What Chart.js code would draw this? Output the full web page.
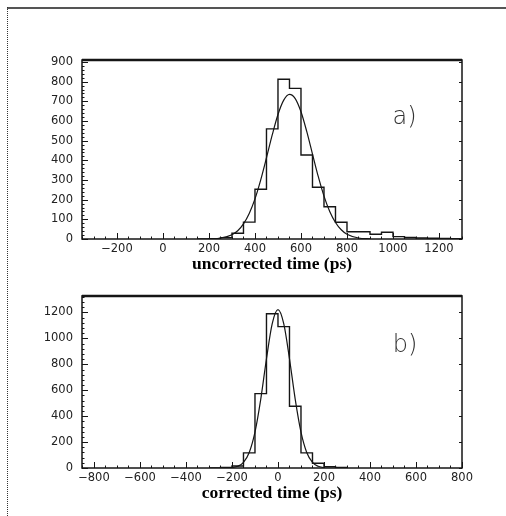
<!DOCTYPE html>
<html>
<head>
<meta charset="utf-8">
<script src="https://cdn.jsdelivr.net/npm/chart.js@4.4.1/dist/chart.umd.min.js"></script>
<style>
  html, body { margin: 0; padding: 0; background: #fff; }
  #page { position: relative; width: 506px; height: 516px; overflow: hidden; background: #fff; }
  .edge-top { position: absolute; left: 7px; top: 7px; right: 0; border-top: 2px solid #555; }
  .edge-left { position: absolute; left: 7px; top: 7px; bottom: 0; border-left: 1px dotted #333; }
  canvas { position: absolute; left: 0; }
  #chartA { top: 0; }
  #chartB { top: 280px; }
</style>
</head>
<body>
<div id="page">
  <div class="edge-top"></div>
  <div class="edge-left"></div>
  <canvas id="chartA" width="506" height="280"></canvas>
  <canvas id="chartB" width="506" height="236"></canvas>
</div>
<script>
// Two timing histograms (50 ps bins) with their gaussian fits.
const binWidth = 50;

// a) uncorrected time
const binLeftA = [200, 250, 300, 350, 400, 450, 500, 550, 600, 650, 700, 750, 800, 850, 900, 950, 1000, 1050, 1100, 1150, 1200, 1250];
const countsA  = [2, 7, 29, 86, 253, 560, 812, 766, 427, 263, 164, 85, 37, 37, 24, 34, 12, 8, 5, 4, 3, 2];
const fitXA = [200, 250, 300, 325, 350, 375, 400, 425, 450, 475, 500, 525, 550, 575, 600, 625, 650, 675, 700, 725, 750, 775, 800, 850, 900];
const fitYA = [1, 5, 22, 42, 77, 130, 204, 301, 413, 529, 633, 706, 735, 714, 647, 547, 432, 318, 218, 140, 84, 47, 24, 5, 1];
const xTicksA = [-200, 0, 200, 400, 600, 800, 1000, 1200];
const yTicksA = [0, 100, 200, 300, 400, 500, 600, 700, 800, 900];

// b) corrected time
const binLeftB = [-250, -200, -150, -100, -50, 0, 50, 100, 150, 200, 250];
const countsB  = [4, 15, 117, 574, 1190, 1091, 477, 117, 37, 10, 4];
const fitXB = [-200, -175, -150, -125, -100, -75, -50, -25, 0, 25, 50, 75, 100, 125, 150, 175, 200];
const fitYB = [3, 13, 43, 120, 277, 530, 843, 1114, 1222, 1114, 843, 530, 277, 120, 43, 13, 3];
const xTicksB = [-800, -600, -400, -200, 0, 200, 400, 600, 800];
const yTicksB = [0, 200, 400, 600, 800, 1000, 1200];

const ink = "#151515";

function histPoints(lefts, counts) {
  const pts = [{ x: lefts[0] - binWidth, y: 0 }];
  lefts.forEach((x, i) => pts.push({ x, y: counts[i] }));
  pts.push({ x: lefts[lefts.length - 1] + binWidth, y: 0 });
  return pts;
}

const fmt = v => (v < 0 ? "\u2212" + Math.abs(v) : String(v));

// frame, inward tick marks and the a)/b) tag, old PAW style
const paperAxes = {
  id: "paperAxes",
  afterDraw(chart, args, opts) {
    const { ctx, chartArea: a, scales: { x, y } } = chart;
    ctx.save();
    ctx.strokeStyle = ink;
    ctx.lineWidth = 1;
    ctx.beginPath();
    for (let v = Math.ceil(x.min / opts.xMinor) * opts.xMinor; v <= x.max; v += opts.xMinor) {
      const px = Math.round(x.getPixelForValue(v)) + 0.5;
      const major = x.ticks.some(t => t.value === v);
      ctx.moveTo(px, a.bottom);
      ctx.lineTo(px, a.bottom - (major ? 6 : 2.5));
    }
    for (let v = 0; v <= y.max; v += opts.yMinor) {
      const py = Math.round(y.getPixelForValue(v)) + 0.5;
      const major = y.ticks.some(t => t.value === v);
      ctx.moveTo(a.left, py);
      ctx.lineTo(a.left + (major ? 6 : 2.5), py);
      if (major) { ctx.moveTo(a.right, py); ctx.lineTo(a.right - 3, py); }
    }
    ctx.stroke();

    ctx.lineWidth = 1.5;
    ctx.strokeRect(a.left, a.top, a.right - a.left, a.bottom - a.top);
    ctx.lineWidth = 2.5;
    ctx.beginPath();
    ctx.moveTo(a.left, a.top);
    ctx.lineTo(a.right, a.top);
    ctx.stroke();

    ctx.fillStyle = "#333";
    ctx.font = '300 24px "DejaVu Sans"';
    ctx.textAlign = "center";
    ctx.textBaseline = "middle";
    ctx.fillText(opts.tag, x.getPixelForValue(opts.tagAt[0]), y.getPixelForValue(opts.tagAt[1]));
    ctx.restore();
  }
};

function makePanel(id, p) {
  return new Chart(document.getElementById(id), {
    type: "line",
    data: {
      datasets: [
        { data: histPoints(p.lefts, p.counts), stepped: "before", borderColor: ink, borderWidth: 1.4, pointRadius: 0, fill: false },
        { data: p.fitX.map((x, i) => ({ x, y: p.fitY[i] })), borderColor: ink, borderWidth: 1.2, pointRadius: 0, fill: false, cubicInterpolationMode: "monotone" }
      ]
    },
    options: {
      responsive: false,
      animation: false,
      devicePixelRatio: 1,
      layout: { padding: { top: p.top, right: 44, bottom: 0, left: 0 } },
      plugins: {
        legend: { display: false },
        tooltip: { enabled: false },
        paperAxes: { xMinor: 50, yMinor: p.yMinor, tag: p.tag, tagAt: p.tagAt }
      },
      scales: {
        x: {
          type: "linear", min: p.xMin, max: p.xMax,
          grid: { display: false, drawTicks: false }, border: { display: false },
          afterBuildTicks: s => { s.ticks = p.xTicks.map(v => ({ value: v })); },
          afterFit: s => { s.height = p.xHeight; },
          ticks: { padding: p.xPad, color: "#222", font: { family: '"DejaVu Sans"', size: 11.5 }, maxRotation: 0, autoSkip: false, callback: fmt },
          title: { display: true, text: p.title, color: "#000", font: { family: '"Liberation Serif"', size: 17.5, weight: "bold" }, padding: { top: 0, bottom: p.titlePad } }
        },
        y: {
          min: 0, max: p.yMax,
          grid: { display: false, drawTicks: false }, border: { display: false },
          afterBuildTicks: s => { s.ticks = p.yTicks.map(v => ({ value: v })); },
          afterFit: s => { s.width = 82; },
          ticks: { padding: 9, color: "#222", font: { family: '"DejaVu Sans"', size: 11.5 }, callback: fmt }
        }
      }
    },
    plugins: [paperAxes]
  });
}

makePanel("chartA", {
  lefts: binLeftA, counts: countsA, fitX: fitXA, fitY: fitYA,
  xTicks: xTicksA, yTicks: yTicksA, xMin: -352, xMax: 1300, yMax: 910,
  top: 60, xHeight: 41, xPad: 3, titlePad: 5, yMinor: 20,
  title: "uncorrected time (ps)", tag: "a)", tagAt: [1050, 615]
});

makePanel("chartB", {
  lefts: binLeftB, counts: countsB, fitX: fitXB, fitY: fitYB,
  xTicks: xTicksB, yTicks: yTicksB, xMin: -852, xMax: 800, yMax: 1328,
  top: 10, xHeight: 48, xPad: 3, titlePad: 12, yMinor: 40,
  title: "corrected time (ps)", tag: "b)", tagAt: [552, 940]
});
</script>
</body>
</html>
